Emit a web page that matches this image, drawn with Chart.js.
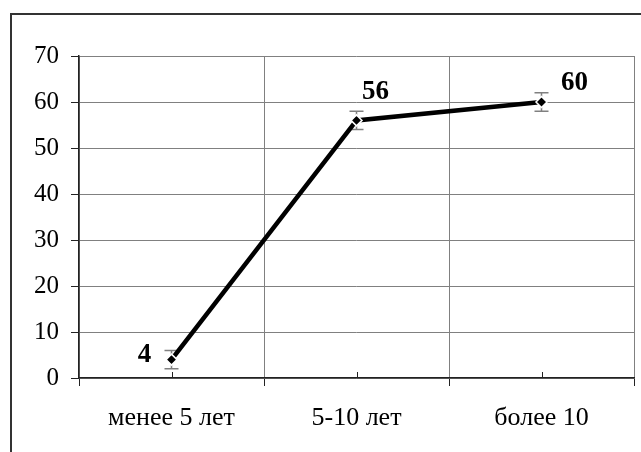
<!DOCTYPE html>
<html>
<head>
<meta charset="utf-8">
<script src="https://cdn.jsdelivr.net/npm/chart.js@4"></script>
<style>
  html, body { margin: 0; padding: 0; background: #fff; }
  canvas { display: block; }
</style>
</head>
<body>
<canvas id="chart" width="641" height="452"></canvas>
<script>
// data
const categories = ['менее 5 лет', '5-10 лет', 'более 10'];
const values = [4, 56, 60];
const errors = [2, 2, 2];
const yMin = 0, yMax = 70, yStep = 10;

// where each value label sits relative to its point (px)
const labelShift = [[-27, -5], [19, -28], [33, -19]];

const serif = '"Liberation Serif", "Times New Roman", serif';

// outer frame, white background
const framePlugin = {
  id: 'frame',
  beforeDraw(chart) {
    const c = chart.ctx;
    c.save();
    c.fillStyle = '#fff';
    c.fillRect(0, 0, chart.width, chart.height);
    c.strokeStyle = '#333';
    c.lineWidth = 2;
    c.strokeRect(11, 14, 800, 600);
    c.restore();
  }
};

// error bars + little centre ticks on the x axis
const errPlugin = {
  id: 'errbars',
  beforeDatasetsDraw(chart) {
    const c = chart.ctx;
    const xs = chart.scales.x, ys = chart.scales.y;
    c.save();
    // minor ticks pointing up at category centres
    c.strokeStyle = '#222';
    c.lineWidth = 1;
    for (let i = 0; i < categories.length; i++) {
      const x = Math.round(xs.getPixelForValue(i)) + 0.5;
      c.beginPath();
      c.moveTo(x, ys.bottom);
      c.lineTo(x, ys.bottom - 6);
      c.stroke();
    }
    c.strokeStyle = '#808080';
    c.lineWidth = 1.5;
    for (let i = 0; i < values.length; i++) {
      const x = xs.getPixelForValue(i);
      const top = ys.getPixelForValue(values[i] + errors[i]);
      const bot = ys.getPixelForValue(values[i] - errors[i]);
      c.beginPath();
      c.moveTo(x, top); c.lineTo(x, bot);
      c.moveTo(x - 7, top); c.lineTo(x + 7, top);
      c.moveTo(x - 7, bot); c.lineTo(x + 7, bot);
      c.stroke();
    }
    c.restore();
  },
  afterDatasetsDraw(chart) {
    const c = chart.ctx;
    const pts = chart.getDatasetMeta(0).data;
    c.save();
    c.fillStyle = '#000';
    c.font = 'bold 27px ' + serif;
    c.textAlign = 'center';
    c.textBaseline = 'middle';
    pts.forEach((p, i) => {
      c.fillText(String(values[i]), p.x + labelShift[i][0], p.y + labelShift[i][1]);
    });
    c.restore();
  }
};

new Chart(document.getElementById('chart'), {
  type: 'line',
  data: {
    labels: categories,
    datasets: [{
      data: values,
      borderColor: '#000',
      borderWidth: 4.5,
      pointStyle: 'rectRot',
      pointRadius: 5.5,
      pointBackgroundColor: '#000',
      pointBorderColor: '#fff',
      pointBorderWidth: 1.5,
      tension: 0
    }]
  },
  options: {
    responsive: false,
    devicePixelRatio: 1,
    animation: false,
    layout: { padding: { left: 0, top: 56, right: 6, bottom: 0 } },
    plugins: { legend: { display: false }, tooltip: { enabled: false } },
    scales: {
      x: {
        offset: true,
        afterFit(s) { s.height = 74; },
        grid: { offset: true, color: '#808080', lineWidth: 1, tickColor: '#222', tickLength: 8 },
        border: { color: '#222', width: 1.5 },
        ticks: { color: '#000', font: { family: serif, size: 26 }, padding: 17 }
      },
      y: {
        min: yMin,
        max: yMax,
        afterFit(s) { s.width = 79; },
        grid: { color: '#808080', lineWidth: 1, tickColor: '#222', tickLength: 8 },
        border: { color: '#222', width: 1.5 },
        ticks: { stepSize: yStep, color: '#000', font: { family: serif, size: 25 }, padding: 12 }
      }
    }
  },
  plugins: [framePlugin, errPlugin]
});
</script>
</body>
</html>
